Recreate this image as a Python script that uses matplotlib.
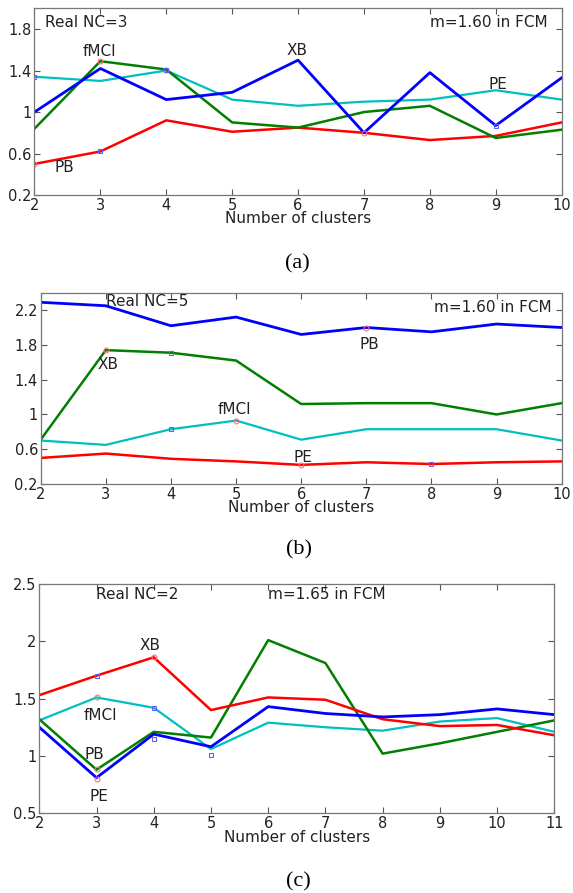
import matplotlib
matplotlib.use("Agg")
import matplotlib.pyplot as plt

plt.rcParams['font.family'] = ['DejaVu Sans']

# === Data ===
# (a) Real NC=3, m=1.60
a_x = [2, 3, 4, 5, 6, 7, 8, 9, 10]
a_xb = [1.00, 1.42, 1.12, 1.19, 1.50, 0.80, 1.38, 0.87, 1.33]
a_fmci = [0.84, 1.49, 1.41, 0.90, 0.85, 1.00, 1.06, 0.75, 0.83]
a_pe = [1.34, 1.30, 1.40, 1.12, 1.06, 1.10, 1.12, 1.21, 1.12]
a_pb = [0.50, 0.62, 0.92, 0.81, 0.85, 0.80, 0.73, 0.77, 0.90]
a_circles = [(2, 0.50), (3, 1.49), (4, 1.41), (7, 0.80)]
a_squares = [(2, 1.34), (3, 0.62), (4, 1.41), (9, 0.87)]

# (b) Real NC=5, m=1.60
b_x = [2, 3, 4, 5, 6, 7, 8, 9, 10]
b_pb = [2.29, 2.25, 2.02, 2.12, 1.92, 2.00, 1.95, 2.04, 2.00]
b_xb = [0.71, 1.74, 1.71, 1.62, 1.12, 1.13, 1.13, 1.00, 1.13]
b_fmci = [0.70, 0.65, 0.83, 0.93, 0.71, 0.83, 0.83, 0.83, 0.70]
b_pe = [0.50, 0.55, 0.49, 0.46, 0.42, 0.45, 0.43, 0.45, 0.46]
b_circles = [(3, 1.74), (5, 0.93), (7, 2.00), (6, 0.42)]
b_squares = [(4, 1.71), (4, 0.83), (8, 0.43)]

# (c) Real NC=2, m=1.65
c_x = [2, 3, 4, 5, 6, 7, 8, 9, 10, 11]
c_xb = [1.53, 1.70, 1.86, 1.40, 1.51, 1.49, 1.32, 1.26, 1.27, 1.18]
c_pe = [1.25, 0.81, 1.19, 1.08, 1.43, 1.37, 1.34, 1.36, 1.41, 1.36]
c_pb = [1.32, 0.88, 1.21, 1.16, 2.01, 1.81, 1.02, 1.11, 1.21, 1.31]
c_fmci = [1.31, 1.51, 1.42, 1.06, 1.29, 1.25, 1.22, 1.30, 1.33, 1.21]
c_circles = [(3, 1.51), (4, 1.86), (3, 0.89), (3, 0.80)]
c_squares = [(3, 1.70), (4, 1.42), (4, 1.15), (5, 1.01)]

BLUE = '#0000ff'
GREEN = '#007f00'
RED = '#ff0000'
CYAN = '#00bfbf'

fig = plt.figure(figsize=(5.73, 8.93), dpi=100)


def style_axes(ax, xlim, ylim, yticks, ytl):
    ax.set_xlim(*xlim)
    ax.set_ylim(*ylim)
    ax.set_xticks(range(xlim[0], xlim[1] + 1))
    ax.set_yticks(yticks)
    ax.set_yticklabels(ytl)
    ax.tick_params(direction='in', top=True, right=True, length=4,
                   labelsize=10.5, pad=2, color='#555555', labelcolor='#222222')
    for s in ax.spines.values():
        s.set_color('#777777')
        s.set_linewidth(0.9)
    ax.set_xlabel("Number of clusters", fontsize=11, labelpad=-1, color='#222222')


def marks(ax, circles, squares):
    ax.plot([p[0] for p in circles], [p[1] for p in circles], 'o', ms=3.5,
            mfc='none', mec='#ff7070', mew=0.8)
    ax.plot([p[0] for p in squares], [p[1] for p in squares], 's', ms=3.5,
            mfc='none', mec='#6060ff', mew=0.8)


cap = dict(ha='center', va='center', fontsize=16, family='Liberation Serif')

# === Panel (a) ===
ax1 = fig.add_axes([0.0602, 0.7816, 0.920, 0.2091])
ax1.plot(a_x, a_pe, color=CYAN, lw=1.6)
ax1.plot(a_x, a_pb, color=RED, lw=1.8)
ax1.plot(a_x, a_fmci, color=GREEN, lw=1.8)
ax1.plot(a_x, a_xb, color=BLUE, lw=2.0)
marks(ax1, a_circles, a_squares)
style_axes(ax1, (2, 10), (0.2, 2.0), [0.2, 0.6, 1, 1.4, 1.8],
           ['0.2', '0.6', '1', '1.4', '1.8'])
tk = dict(fontsize=11, color='#222222', va='center')
ax1.text(2.16, 1.86, "Real NC=3", ha='left', **tk)
ax1.text(9.78, 1.86, "m=1.60 in FCM", ha='right', **tk)
ax1.text(2.99, 1.58, "fMCI", ha='center', **tk)
ax1.text(5.98, 1.59, "XB", ha='center', **tk)
ax1.text(9.03, 1.27, "PE", ha='center', **tk)
ax1.text(2.45, 0.47, "PB", ha='center', **tk)
fig.text(297 / 573, 1 - 264 / 893, "(a)", **cap)

# === Panel (b) ===
ax2 = fig.add_axes([0.0710, 0.4580, 0.9093, 0.2142])
ax2.plot(b_x, b_fmci, color=CYAN, lw=1.6)
ax2.plot(b_x, b_pe, color=RED, lw=1.8)
ax2.plot(b_x, b_xb, color=GREEN, lw=1.8)
ax2.plot(b_x, b_pb, color=BLUE, lw=2.0)
marks(ax2, b_circles, b_squares)
style_axes(ax2, (2, 10), (0.2, 2.4), [0.2, 0.6, 1, 1.4, 1.8, 2.2],
           ['0.2', '0.6', '1', '1.4', '1.8', '2.2'])
ax2.text(3.0, 2.30, "Real NC=5", ha='left', **tk)
ax2.text(9.84, 2.23, "m=1.60 in FCM", ha='right', **tk)
ax2.text(3.04, 1.58, "XB", ha='center', **tk)
ax2.text(4.97, 1.06, "fMCI", ha='center', **tk)
ax2.text(7.04, 1.81, "PB", ha='center', **tk)
ax2.text(6.03, 0.51, "PE", ha='center', **tk)
fig.text(299 / 573, 1 - 550 / 893, "(b)", **cap)

# === Panel (c) ===
ax3 = fig.add_axes([0.0686, 0.0893, 0.8988, 0.2568])
ax3.plot(c_x, c_fmci, color=CYAN, lw=1.6)
ax3.plot(c_x, c_pb, color=GREEN, lw=1.8)
ax3.plot(c_x, c_xb, color=RED, lw=1.8)
ax3.plot(c_x, c_pe, color=BLUE, lw=2.0)
marks(ax3, c_circles, c_squares)
style_axes(ax3, (2, 11), (0.5, 2.5), [0.5, 1, 1.5, 2, 2.5],
           ['0.5', '1', '1.5', '2', '2.5'])
ax3.text(2.99, 2.41, "Real NC=2", ha='left', **tk)
ax3.text(6.0, 2.41, "m=1.65 in FCM", ha='left', **tk)
ax3.text(3.94, 1.965, "XB", ha='center', **tk)
ax3.text(3.07, 1.35, "fMCI", ha='center', **tk)
ax3.text(2.965, 1.01, "PB", ha='center', **tk)
ax3.text(3.05, 0.65, "PE", ha='center', **tk)
fig.text(298 / 573, 1 - 882 / 893, "(c)", **cap)

fig.savefig("out.png", dpi=100)
